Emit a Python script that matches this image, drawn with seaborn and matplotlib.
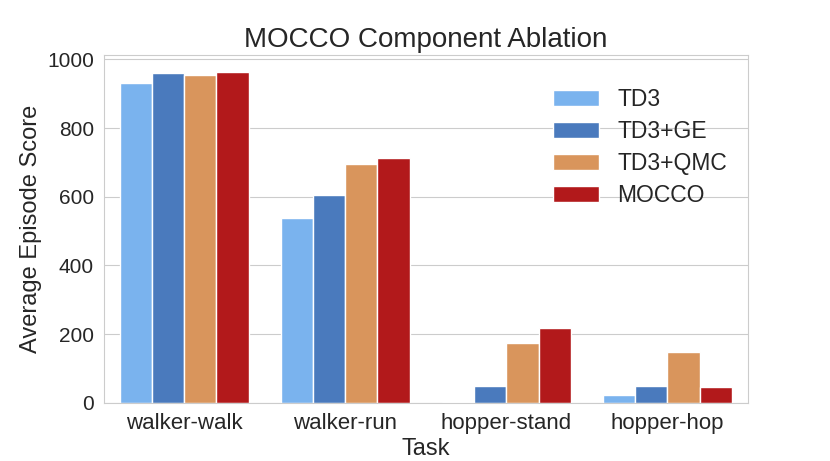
import pandas as pd
import matplotlib
matplotlib.use("Agg")
import matplotlib.pyplot as plt
import seaborn as sns

# values
tasks = ["walker-walk", "walker-run", "hopper-stand", "hopper-hop"]
methods = ["TD3", "TD3+GE", "TD3+QMC", "MOCCO"]
td3 = [931, 538, 3, 24]
td3_ge = [959, 604, 48, 50]
td3_qmc = [955, 695, 173, 147]
mocco = [963, 713, 218, 45]
colors = ["#7ab3ee", "#4a7abd", "#d9955c", "#b2191b"]

rows = []
for m, vals in zip(methods, [td3, td3_ge, td3_qmc, mocco]):
    for t, v in zip(tasks, vals):
        rows.append({"Task": t, "Method": m, "Score": v})
df = pd.DataFrame(rows)

sns.set_style("whitegrid")
plt.rcParams["font.family"] = ["Liberation Sans", "DejaVu Sans"]

fig = plt.figure(figsize=(8.3, 4.61), dpi=100)
ax = fig.add_axes([0.125, 0.126, 0.776, 0.755])
sns.barplot(data=df, x="Task", y="Score", hue="Method", order=tasks,
            hue_order=methods, palette=colors, saturation=1,
            edgecolor="white", linewidth=1, ax=ax)

ax.set_title("MOCCO Component Ablation", fontsize=20)
ax.set_xlabel("Task", fontsize=17, labelpad=3)
ax.set_ylabel("Average Episode Score", fontsize=17)
ax.tick_params(axis="x", labelsize=16)
ax.tick_params(axis="y", labelsize=15)
ax.set_yticks([0, 200, 400, 600, 800, 1000])
ax.set_ylim(0, 1013)
ax.legend(loc="upper right", frameon=False, fontsize=16.5, labelspacing=0.4,
          bbox_to_anchor=(1.0, 0.965))

fig.savefig("out.png", dpi=100)
